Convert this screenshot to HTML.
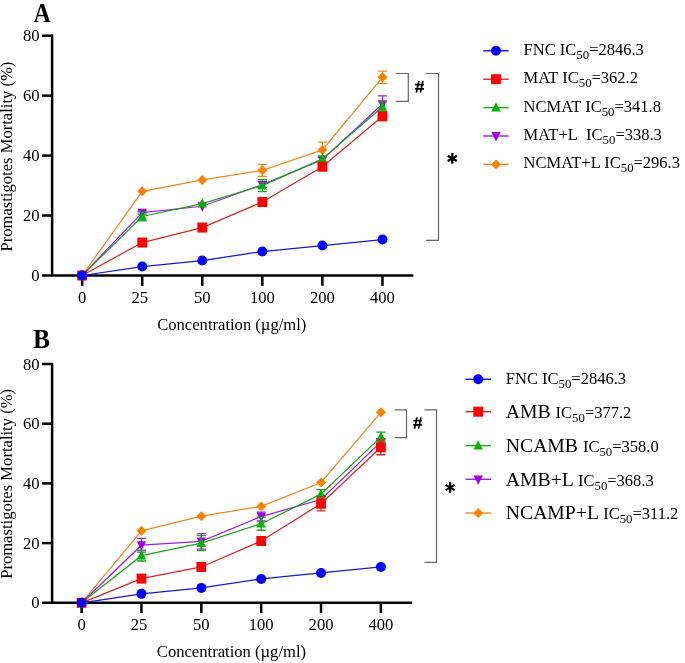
<!DOCTYPE html>
<html><head><meta charset="utf-8"><style>
html,body{margin:0;padding:0;background:#fff;}
svg{display:block;will-change:transform;}
text{font-family:"Liberation Serif", serif;fill:#000;}
.t{font-size:16.6px;}
.yt{font-size:16.6px;}
.lg{font-size:16.5px;}
.sb{font-size:12.8px;}
.big{font-size:19.7px;}
.pl{font-size:26.5px;font-weight:bold;}
</style></head><body>
<svg width="685" height="663" viewBox="0 0 685 663">
<path d="M52.1,34.45V275.50M42,275.50H413.3" stroke="#000" stroke-width="2.5" fill="none"/>
<line x1="42" y1="215.55" x2="52" y2="215.55" stroke="#000" stroke-width="2.5"/>
<line x1="42" y1="155.60" x2="52" y2="155.60" stroke="#000" stroke-width="2.5"/>
<line x1="42" y1="95.65" x2="52" y2="95.65" stroke="#000" stroke-width="2.5"/>
<line x1="42" y1="35.70" x2="52" y2="35.70" stroke="#000" stroke-width="2.5"/>
<line x1="82.15" y1="275.50" x2="82.15" y2="285.80" stroke="#000" stroke-width="2.5"/>
<line x1="142.21" y1="275.50" x2="142.21" y2="285.80" stroke="#000" stroke-width="2.5"/>
<line x1="202.27" y1="275.50" x2="202.27" y2="285.80" stroke="#000" stroke-width="2.5"/>
<line x1="262.33" y1="275.50" x2="262.33" y2="285.80" stroke="#000" stroke-width="2.5"/>
<line x1="322.39" y1="275.50" x2="322.39" y2="285.80" stroke="#000" stroke-width="2.5"/>
<line x1="382.45" y1="275.50" x2="382.45" y2="285.80" stroke="#000" stroke-width="2.5"/>
<text x="39.5" y="281.10" text-anchor="end" class="t">0</text>
<text x="39.5" y="221.15" text-anchor="end" class="t">20</text>
<text x="39.5" y="161.20" text-anchor="end" class="t">40</text>
<text x="39.5" y="101.25" text-anchor="end" class="t">60</text>
<text x="39.5" y="41.30" text-anchor="end" class="t">80</text>
<text x="82.15" y="302.90" text-anchor="middle" class="t">0</text>
<text x="139.71" y="302.90" text-anchor="middle" class="t">25</text>
<text x="202.27" y="302.90" text-anchor="middle" class="t">50</text>
<text x="262.33" y="302.90" text-anchor="middle" class="t">100</text>
<text x="322.39" y="302.90" text-anchor="middle" class="t">200</text>
<text x="382.45" y="302.90" text-anchor="middle" class="t">400</text>
<text x="231.8" y="329.70" text-anchor="middle" class="t">Concentration (µg/ml)</text>
<text transform="translate(12.4,156.60) rotate(-90)" text-anchor="middle" class="yt">Promastigotes Mortality (%)</text>
<text transform="translate(42.15,22.1) scale(0.905,1)" text-anchor="middle" class="pl">A</text>
<polyline points="82.15,275.50 142.21,191.27 202.27,179.88 262.33,170.29 322.39,149.90 382.45,77.37" fill="none" stroke="#EA8A2A" stroke-width="1.25"/>
<path d="M262.33,164.29V176.28M257.73,164.29h9.2M257.73,176.28h9.2" stroke="#EA8A2A" stroke-width="1.3" fill="none"/>
<path d="M322.39,142.11V157.70M317.79,142.11h9.2M317.79,157.70h9.2" stroke="#EA8A2A" stroke-width="1.3" fill="none"/>
<path d="M382.45,71.07V83.66M377.85,71.07h9.2M377.85,83.66h9.2" stroke="#EA8A2A" stroke-width="1.3" fill="none"/>
<path d="M82.15,270.50L87.15,275.50L82.15,280.50L77.15,275.50Z" fill="#FF8000"/>
<path d="M142.21,186.27L147.21,191.27L142.21,196.27L137.21,191.27Z" fill="#FF8000"/>
<path d="M202.27,174.88L207.27,179.88L202.27,184.88L197.27,179.88Z" fill="#FF8000"/>
<path d="M262.33,165.29L267.33,170.29L262.33,175.29L257.33,170.29Z" fill="#FF8000"/>
<path d="M322.39,144.90L327.39,149.90L322.39,154.90L317.39,149.90Z" fill="#FF8000"/>
<path d="M382.45,72.37L387.45,77.37L382.45,82.37L377.45,77.37Z" fill="#FF8000"/>
<polyline points="82.15,275.50 142.21,212.55 202.27,206.26 262.33,184.68 322.39,159.80 382.45,104.04" fill="none" stroke="#9A22D8" stroke-width="1.25"/>
<path d="M142.21,211.05V214.05M137.61,211.05h9.2M137.61,214.05h9.2" stroke="#9A22D8" stroke-width="1.3" fill="none"/>
<path d="M262.33,181.68V187.67M257.73,181.68h9.2M257.73,187.67h9.2" stroke="#9A22D8" stroke-width="1.3" fill="none"/>
<path d="M322.39,156.80V162.79M317.79,156.80h9.2M317.79,162.79h9.2" stroke="#9A22D8" stroke-width="1.3" fill="none"/>
<path d="M382.45,95.95V112.14M377.85,95.95h9.2M377.85,112.14h9.2" stroke="#9A22D8" stroke-width="1.3" fill="none"/>
<path d="M82.15,280.90L86.85,271.60L77.45,271.60Z" fill="#A000E6"/>
<path d="M142.21,217.95L146.91,208.65L137.51,208.65Z" fill="#A000E6"/>
<path d="M202.27,211.66L206.97,202.36L197.57,202.36Z" fill="#A000E6"/>
<path d="M262.33,190.08L267.03,180.78L257.63,180.78Z" fill="#A000E6"/>
<path d="M322.39,165.20L327.09,155.90L317.69,155.90Z" fill="#A000E6"/>
<path d="M382.45,109.44L387.15,100.14L377.75,100.14Z" fill="#A000E6"/>
<polyline points="82.15,275.50 142.21,216.45 202.27,203.56 262.33,185.57 322.39,158.90 382.45,106.74" fill="none" stroke="#22A022" stroke-width="1.25"/>
<path d="M142.21,211.95V220.95M137.61,211.95h9.2M137.61,220.95h9.2" stroke="#22A022" stroke-width="1.3" fill="none"/>
<path d="M262.33,179.58V191.57M257.73,179.58h9.2M257.73,191.57h9.2" stroke="#22A022" stroke-width="1.3" fill="none"/>
<path d="M322.39,155.90V161.89M317.79,155.90h9.2M317.79,161.89h9.2" stroke="#22A022" stroke-width="1.3" fill="none"/>
<path d="M382.45,101.94V111.54M377.85,101.94h9.2M377.85,111.54h9.2" stroke="#22A022" stroke-width="1.3" fill="none"/>
<path d="M82.15,270.10L86.85,279.40L77.45,279.40Z" fill="#00B400"/>
<path d="M142.21,211.05L146.91,220.35L137.51,220.35Z" fill="#00B400"/>
<path d="M202.27,198.16L206.97,207.46L197.57,207.46Z" fill="#00B400"/>
<path d="M262.33,180.17L267.03,189.47L257.63,189.47Z" fill="#00B400"/>
<path d="M322.39,153.50L327.09,162.80L317.69,162.80Z" fill="#00B400"/>
<path d="M382.45,101.34L387.15,110.64L377.75,110.64Z" fill="#00B400"/>
<polyline points="82.15,275.50 142.21,242.53 202.27,227.54 262.33,202.06 322.39,166.69 382.45,116.33" fill="none" stroke="#D42828" stroke-width="1.25"/>
<rect x="77.25" y="270.50" width="9.8" height="10" fill="#FF0000"/>
<rect x="137.31" y="237.53" width="9.8" height="10" fill="#FF0000"/>
<rect x="197.37" y="222.54" width="9.8" height="10" fill="#FF0000"/>
<rect x="257.43" y="197.06" width="9.8" height="10" fill="#FF0000"/>
<rect x="317.49" y="161.69" width="9.8" height="10" fill="#FF0000"/>
<rect x="377.55" y="111.33" width="9.8" height="10" fill="#FF0000"/>
<polyline points="82.15,275.50 142.21,266.51 202.27,260.51 262.33,251.52 322.39,245.53 382.45,239.53" fill="none" stroke="#1818C8" stroke-width="1.25"/>
<circle cx="82.15" cy="275.50" r="5" fill="#0000FF"/>
<circle cx="142.21" cy="266.51" r="5" fill="#0000FF"/>
<circle cx="202.27" cy="260.51" r="5" fill="#0000FF"/>
<circle cx="262.33" cy="251.52" r="5" fill="#0000FF"/>
<circle cx="322.39" cy="245.53" r="5" fill="#0000FF"/>
<circle cx="382.45" cy="239.53" r="5" fill="#0000FF"/>
<line x1="483.2" y1="50.8" x2="508.7" y2="50.8" stroke="#1818C8" stroke-width="1.4"/>
<circle cx="496.00" cy="50.80" r="5" fill="#0000FF"/>
<text x="523.6" y="54.70" class="lg">FNC IC<tspan class="sb" dy="4">50</tspan><tspan dy="-4">=2846.3</tspan></text>
<line x1="483.2" y1="79.2" x2="508.7" y2="79.2" stroke="#D42828" stroke-width="1.4"/>
<rect x="491.10" y="74.20" width="9.8" height="10" fill="#FF0000"/>
<text x="523.6" y="83.10" class="lg">MAT IC<tspan class="sb" dy="4">50</tspan><tspan dy="-4">=362.2</tspan></text>
<line x1="483.2" y1="107.6" x2="508.7" y2="107.6" stroke="#22A022" stroke-width="1.4"/>
<path d="M496.00,102.20L500.70,111.50L491.30,111.50Z" fill="#00B400"/>
<text x="523.6" y="111.50" class="lg">NCMAT IC<tspan class="sb" dy="4">50</tspan><tspan dy="-4">=341.8</tspan></text>
<line x1="483.2" y1="136" x2="508.7" y2="136" stroke="#9A22D8" stroke-width="1.4"/>
<path d="M496.00,141.40L500.70,132.10L491.30,132.10Z" fill="#A000E6"/>
<text x="523.6" y="139.90" class="lg">MAT+L&#160; IC<tspan class="sb" dy="4">50</tspan><tspan dy="-4">=338.3</tspan></text>
<line x1="483.2" y1="164.4" x2="508.7" y2="164.4" stroke="#EA8A2A" stroke-width="1.4"/>
<path d="M496.00,159.40L501.00,164.40L496.00,169.40L491.00,164.40Z" fill="#FF8000"/>
<text x="523.6" y="168.30" class="lg">NCMAT+L IC<tspan class="sb" dy="4">50</tspan><tspan dy="-4">=296.3</tspan></text>
<path d="M395.9,73.5H408.3V101.3H395.9" stroke="#666" stroke-width="1.2" fill="none"/><path d="M426,73.5H438.5V240.4H426" stroke="#666" stroke-width="1.2" fill="none"/><path d="M415.1,84.6H424.0M415.1,88.8H424.0" stroke="#000" stroke-width="1.75" fill="none"/><path d="M418.9,81.0L416.4,92.7M422.9,81.0L420.4,92.7" stroke="#000" stroke-width="1.65" fill="none"/><path d="M452.3,153.1V163.70000000000002M447.7,155.75L456.90000000000003,161.05M447.7,161.05L456.90000000000003,155.75" stroke="#000" stroke-width="2.2" fill="none"/>
<path d="M52.1,362.75V602.80M42,602.80H412.2" stroke="#000" stroke-width="2.5" fill="none"/>
<line x1="42" y1="543.10" x2="52" y2="543.10" stroke="#000" stroke-width="2.5"/>
<line x1="42" y1="483.40" x2="52" y2="483.40" stroke="#000" stroke-width="2.5"/>
<line x1="42" y1="423.70" x2="52" y2="423.70" stroke="#000" stroke-width="2.5"/>
<line x1="42" y1="364.00" x2="52" y2="364.00" stroke="#000" stroke-width="2.5"/>
<line x1="81.60" y1="602.80" x2="81.60" y2="613.10" stroke="#000" stroke-width="2.5"/>
<line x1="141.46" y1="602.80" x2="141.46" y2="613.10" stroke="#000" stroke-width="2.5"/>
<line x1="201.32" y1="602.80" x2="201.32" y2="613.10" stroke="#000" stroke-width="2.5"/>
<line x1="261.18" y1="602.80" x2="261.18" y2="613.10" stroke="#000" stroke-width="2.5"/>
<line x1="321.04" y1="602.80" x2="321.04" y2="613.10" stroke="#000" stroke-width="2.5"/>
<line x1="380.90" y1="602.80" x2="380.90" y2="613.10" stroke="#000" stroke-width="2.5"/>
<text x="39.5" y="608.40" text-anchor="end" class="t">0</text>
<text x="39.5" y="548.70" text-anchor="end" class="t">20</text>
<text x="39.5" y="489.00" text-anchor="end" class="t">40</text>
<text x="39.5" y="429.30" text-anchor="end" class="t">60</text>
<text x="39.5" y="369.60" text-anchor="end" class="t">80</text>
<text x="81.60" y="630.20" text-anchor="middle" class="t">0</text>
<text x="138.96" y="630.20" text-anchor="middle" class="t">25</text>
<text x="201.32" y="630.20" text-anchor="middle" class="t">50</text>
<text x="261.18" y="630.20" text-anchor="middle" class="t">100</text>
<text x="321.04" y="630.20" text-anchor="middle" class="t">200</text>
<text x="380.90" y="630.20" text-anchor="middle" class="t">400</text>
<text x="231.45" y="657.00" text-anchor="middle" class="t">Concentration (µg/ml)</text>
<text transform="translate(12.4,483.90) rotate(-90)" text-anchor="middle" class="yt">Promastigotes Mortality (%)</text>
<text transform="translate(41.4,348.0) scale(0.96,1)" text-anchor="middle" class="pl">B</text>
<polyline points="81.60,602.80 141.46,530.86 201.32,516.23 261.18,506.38 321.04,482.50 380.90,412.36" fill="none" stroke="#EA8A2A" stroke-width="1.25"/>
<path d="M81.60,597.80L86.60,602.80L81.60,607.80L76.60,602.80Z" fill="#FF8000"/>
<path d="M141.46,525.86L146.46,530.86L141.46,535.86L136.46,530.86Z" fill="#FF8000"/>
<path d="M201.32,511.23L206.32,516.23L201.32,521.23L196.32,516.23Z" fill="#FF8000"/>
<path d="M261.18,501.38L266.18,506.38L261.18,511.38L256.18,506.38Z" fill="#FF8000"/>
<path d="M321.04,477.50L326.04,482.50L321.04,487.50L316.04,482.50Z" fill="#FF8000"/>
<path d="M380.90,407.36L385.90,412.36L380.90,417.36L375.90,412.36Z" fill="#FF8000"/>
<polyline points="81.60,602.80 141.46,545.19 201.32,541.31 261.18,516.53 321.04,499.52 380.90,441.91" fill="none" stroke="#9A22D8" stroke-width="1.25"/>
<path d="M141.46,538.32V552.05M136.86,538.32h9.2M136.86,552.05h9.2" stroke="#9A22D8" stroke-width="1.3" fill="none"/>
<path d="M201.32,533.55V549.07M196.72,533.55h9.2M196.72,549.07h9.2" stroke="#9A22D8" stroke-width="1.3" fill="none"/>
<path d="M261.18,512.06V521.01M256.58,512.06h9.2M256.58,521.01h9.2" stroke="#9A22D8" stroke-width="1.3" fill="none"/>
<path d="M321.04,496.53V502.50M316.44,496.53h9.2M316.44,502.50h9.2" stroke="#9A22D8" stroke-width="1.3" fill="none"/>
<path d="M380.90,438.92V444.89M376.30,438.92h9.2M376.30,444.89h9.2" stroke="#9A22D8" stroke-width="1.3" fill="none"/>
<path d="M81.60,608.20L86.30,598.90L76.90,598.90Z" fill="#A000E6"/>
<path d="M141.46,550.59L146.16,541.29L136.76,541.29Z" fill="#A000E6"/>
<path d="M201.32,546.71L206.02,537.41L196.62,537.41Z" fill="#A000E6"/>
<path d="M261.18,521.93L265.88,512.63L256.48,512.63Z" fill="#A000E6"/>
<path d="M321.04,504.92L325.74,495.62L316.34,495.62Z" fill="#A000E6"/>
<path d="M380.90,447.31L385.60,438.01L376.20,438.01Z" fill="#A000E6"/>
<polyline points="81.60,602.80 141.46,555.64 201.32,543.10 261.18,523.70 321.04,494.15 380.90,436.83" fill="none" stroke="#22A022" stroke-width="1.25"/>
<path d="M141.46,550.26V561.01M136.86,550.26h9.2M136.86,561.01h9.2" stroke="#22A022" stroke-width="1.3" fill="none"/>
<path d="M201.32,535.64V550.56M196.72,535.64h9.2M196.72,550.56h9.2" stroke="#22A022" stroke-width="1.3" fill="none"/>
<path d="M261.18,517.13V530.26M256.58,517.13h9.2M256.58,530.26h9.2" stroke="#22A022" stroke-width="1.3" fill="none"/>
<path d="M321.04,489.67V498.62M316.44,489.67h9.2M316.44,498.62h9.2" stroke="#22A022" stroke-width="1.3" fill="none"/>
<path d="M380.90,432.06V441.61M376.30,432.06h9.2M376.30,441.61h9.2" stroke="#22A022" stroke-width="1.3" fill="none"/>
<path d="M81.60,597.40L86.30,606.70L76.90,606.70Z" fill="#00B400"/>
<path d="M141.46,550.24L146.16,559.54L136.76,559.54Z" fill="#00B400"/>
<path d="M201.32,537.70L206.02,547.00L196.62,547.00Z" fill="#00B400"/>
<path d="M261.18,518.30L265.88,527.60L256.48,527.60Z" fill="#00B400"/>
<path d="M321.04,488.75L325.74,498.05L316.34,498.05Z" fill="#00B400"/>
<path d="M380.90,431.43L385.60,440.73L376.20,440.73Z" fill="#00B400"/>
<polyline points="81.60,602.80 141.46,578.62 201.32,566.98 261.18,541.01 321.04,503.70 380.90,447.28" fill="none" stroke="#D42828" stroke-width="1.25"/>
<path d="M321.04,496.53V510.86M316.44,496.53h9.2M316.44,510.86h9.2" stroke="#D42828" stroke-width="1.3" fill="none"/>
<path d="M380.90,439.82V454.74M376.30,439.82h9.2M376.30,454.74h9.2" stroke="#D42828" stroke-width="1.3" fill="none"/>
<rect x="76.70" y="597.80" width="9.8" height="10" fill="#FF0000"/>
<rect x="136.56" y="573.62" width="9.8" height="10" fill="#FF0000"/>
<rect x="196.42" y="561.98" width="9.8" height="10" fill="#FF0000"/>
<rect x="256.28" y="536.01" width="9.8" height="10" fill="#FF0000"/>
<rect x="316.14" y="498.70" width="9.8" height="10" fill="#FF0000"/>
<rect x="376.00" y="442.28" width="9.8" height="10" fill="#FF0000"/>
<polyline points="81.60,602.80 141.46,593.84 201.32,587.88 261.18,578.92 321.04,572.95 380.90,566.98" fill="none" stroke="#1818C8" stroke-width="1.25"/>
<circle cx="81.60" cy="602.80" r="5" fill="#0000FF"/>
<circle cx="141.46" cy="593.84" r="5" fill="#0000FF"/>
<circle cx="201.32" cy="587.88" r="5" fill="#0000FF"/>
<circle cx="261.18" cy="578.92" r="5" fill="#0000FF"/>
<circle cx="321.04" cy="572.95" r="5" fill="#0000FF"/>
<circle cx="380.90" cy="566.98" r="5" fill="#0000FF"/>
<line x1="465.5" y1="379.3" x2="491" y2="379.3" stroke="#1818C8" stroke-width="1.4"/>
<circle cx="478.20" cy="379.30" r="5" fill="#0000FF"/>
<text x="505.8" y="383.50" class="lg">FNC IC<tspan class="sb" dy="4">50</tspan><tspan dy="-4">=2846.3</tspan></text>
<line x1="465.5" y1="411.7" x2="491" y2="411.7" stroke="#D42828" stroke-width="1.4"/>
<rect x="473.30" y="406.70" width="9.8" height="10" fill="#FF0000"/>
<text x="505.8" y="417.90" class="lg"><tspan class="big">AMB</tspan><tspan class="big"> </tspan>IC<tspan class="sb" dy="4">50</tspan><tspan dy="-4">=377.2</tspan></text>
<line x1="465.5" y1="445.6" x2="491" y2="445.6" stroke="#22A022" stroke-width="1.4"/>
<path d="M478.20,440.20L482.90,449.50L473.50,449.50Z" fill="#00B400"/>
<text x="505.8" y="451.80" class="lg"><tspan class="big">NCAMB</tspan><tspan class="big"> </tspan>IC<tspan class="sb" dy="4">50</tspan><tspan dy="-4">=358.0</tspan></text>
<line x1="465.5" y1="479.3" x2="491" y2="479.3" stroke="#9A22D8" stroke-width="1.4"/>
<path d="M478.20,484.70L482.90,475.40L473.50,475.40Z" fill="#A000E6"/>
<text x="505.8" y="485.60" class="lg"><tspan class="big">AMB+L</tspan><tspan class="big"> </tspan>IC<tspan class="sb" dy="4">50</tspan><tspan dy="-4">=368.3</tspan></text>
<line x1="465.5" y1="513" x2="491" y2="513" stroke="#EA8A2A" stroke-width="1.4"/>
<path d="M478.20,508.00L483.20,513.00L478.20,518.00L473.20,513.00Z" fill="#FF8000"/>
<text x="505.8" y="519.00" class="lg"><tspan class="big">NCAMP+L</tspan><tspan class="big"> </tspan>IC<tspan class="sb" dy="4">50</tspan><tspan dy="-4">=311.2</tspan></text>
<path d="M394.6,409.9H406.5V437.7H394.6" stroke="#666" stroke-width="1.2" fill="none"/><path d="M424.4,409.9H436.5V562.3H424.4" stroke="#666" stroke-width="1.2" fill="none"/><path d="M413.4,420.7H421.9M413.4,424.9H421.9" stroke="#000" stroke-width="1.75" fill="none"/><path d="M417.0,417.4L414.5,428.7M421.0,417.4L418.6,428.7" stroke="#000" stroke-width="1.65" fill="none"/><path d="M450.1,482.2V492.8M445.6,484.9L454.6,490.1M445.6,490.1L454.6,484.9" stroke="#000" stroke-width="2.2" fill="none"/>
</svg>
</body></html>
